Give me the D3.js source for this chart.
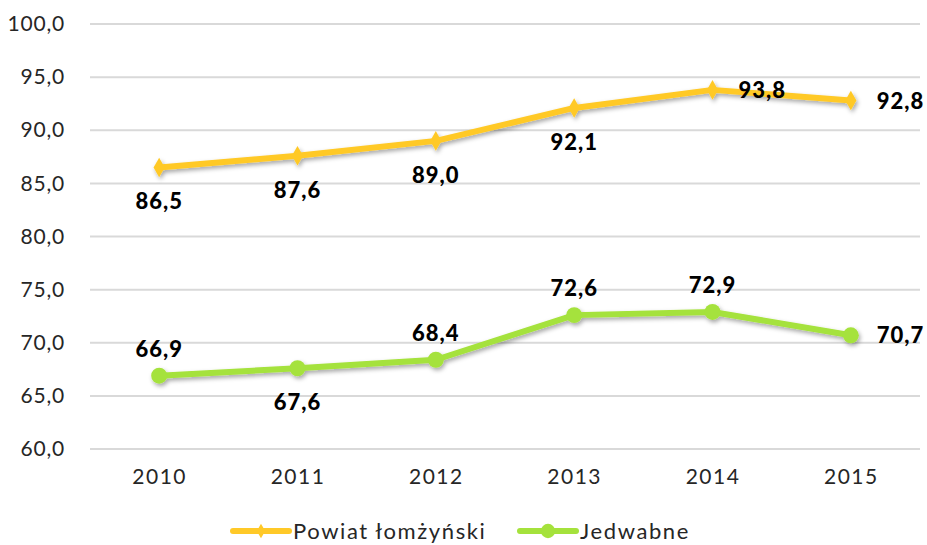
<!DOCTYPE html>
<html>
<head>
<meta charset="utf-8">
<script src="https://cdn.jsdelivr.net/npm/d3@7"></script>
<style>
  body { margin: 0; background: #fff; }
  text { font-family: "Lato", "Open Sans", sans-serif; }
</style>
</head>
<body>
<div id="chart"></div>
<script>
var years = ["2010", "2011", "2012", "2013", "2014", "2015"];
var powiat = [86.5, 87.6, 89.0, 92.1, 93.8, 92.8];
var jedwabne = [66.9, 67.6, 68.4, 72.6, 72.9, 70.7];
var yTicks = [60, 65, 70, 75, 80, 85, 90, 95, 100];
// label placement per point
var powiatPos = ["below", "below", "below", "below", "right", "right"];
var jedwabnePos = ["above", "below", "above", "above", "above", "right"];

var margin = {top: 24, right: 7, bottom: 96, left: 90},
    width = 927 - margin.left - margin.right,
    height = 545 - margin.top - margin.bottom;

var svg = d3.select("#chart").append("svg")
    .attr("width", 927)
    .attr("height", 545);

var defs = svg.append("defs");
var f = defs.append("filter").attr("id", "shadow")
    .attr("x", "-10%").attr("y", "-30%").attr("width", "120%").attr("height", "160%");
f.append("feDropShadow").attr("dx", 1.5).attr("dy", 2.5).attr("stdDeviation", 2)
    .attr("flood-color", "#000").attr("flood-opacity", 0.35);

var g = svg.append("g")
    .attr("transform", "translate(" + margin.left + "," + margin.top + ")");

var x = d3.scalePoint().domain(years).range([0, width]).padding(0.5);
var y = d3.scaleLinear().domain([60, 100]).range([height, 0]);

var fmt = function(v) { return d3.format(".1f")(v).replace(".", ","); };

// gridlines
g.append("g").selectAll("line")
    .data(yTicks)
  .enter().append("line")
    .attr("x1", 0).attr("x2", width)
    .attr("y1", function(d) { return y(d); })
    .attr("y2", function(d) { return y(d); })
    .attr("stroke", "#d9d9d9").attr("stroke-width", 2);

// y axis
var yAxis = g.append("g")
    .call(d3.axisLeft(y).tickValues(yTicks).tickFormat(fmt).tickSize(0).tickPadding(25));
yAxis.select(".domain").remove();
yAxis.selectAll("text").attr("font-size", 21).attr("fill", "#262626")
    .attr("letter-spacing", 0.8)
    .style("font-family", "Lato, sans-serif");

// x axis
var xAxis = g.append("g")
    .attr("transform", "translate(0," + height + ")")
    .call(d3.axisBottom(x).tickSize(0).tickPadding(20));
xAxis.select(".domain").remove();
xAxis.selectAll("text").attr("font-size", 21).attr("fill", "#262626")
    .attr("letter-spacing", 1.5)
    .style("font-family", "Lato, sans-serif");

var series = [
  {name: "Powiat łomżyński", values: powiat, color: "#FFC928", marker: "diamond", pos: powiatPos},
  {name: "Jedwabne", values: jedwabne, color: "#A5E23C", marker: "circle", pos: jedwabnePos}
];

var line = d3.line()
    .x(function(d, i) { return x(years[i]); })
    .y(function(d) { return y(d); });

series.forEach(function(s) {
  var sg = g.append("g").attr("filter", "url(#shadow)");
  sg.append("path")
      .datum(s.values)
      .attr("fill", "none")
      .attr("stroke", s.color)
      .attr("stroke-width", 6)
      .attr("stroke-linejoin", "round")
      .attr("d", line);
  var sym = s.marker == "diamond"
      ? d3.symbol().type(d3.symbolDiamond).size(110)
      : d3.symbol().type(d3.symbolCircle).size(200);
  sg.selectAll(".pt")
      .data(s.values)
    .enter().append("path")
      .attr("transform", function(d, i) { return "translate(" + x(years[i]) + "," + y(d) + ")"; })
      .attr("d", sym)
      .attr("fill", s.color);

  g.selectAll(null)
      .data(s.values)
    .enter().append("text")
      .attr("x", function(d, i) {
        var p = s.pos[i];
        return x(years[i]) + (p == "right" ? 26 : 0);
      })
      .attr("y", function(d, i) {
        var p = s.pos[i];
        if (p == "below") return y(d) + 42;
        if (p == "above") return y(d) - 19;
        return y(d) + 8;
      })
      .attr("text-anchor", function(d, i) { return s.pos[i] == "right" ? "start" : "middle"; })
      .attr("font-size", 22)
      .attr("font-weight", 900)
      .attr("letter-spacing", 1)
      .attr("fill", "#000")
      .text(fmt);
});

// legend
var legend = svg.append("g").attr("transform", "translate(0,531)");
var legendX = [233, 520];
series.forEach(function(s, i) {
  var lg = legend.append("g").attr("transform", "translate(" + legendX[i] + ",0)");
  lg.append("line").attr("x1", 0).attr("x2", 56).attr("y1", 0).attr("y2", 0)
      .attr("stroke", s.color).attr("stroke-width", 6).attr("stroke-linecap", "round");
  lg.append("path").attr("transform", "translate(28,0)")
      .attr("d", s.marker == "diamond"
          ? d3.symbol().type(d3.symbolDiamond).size(60)
          : d3.symbol().type(d3.symbolCircle).size(160))
      .attr("fill", s.color);
  lg.append("text").attr("x", 60).attr("y", 8)
      .attr("font-size", 22).attr("fill", "#262626")
      .attr("letter-spacing", 1.6)
      .text(s.name);
});
</script>
</body>
</html>
